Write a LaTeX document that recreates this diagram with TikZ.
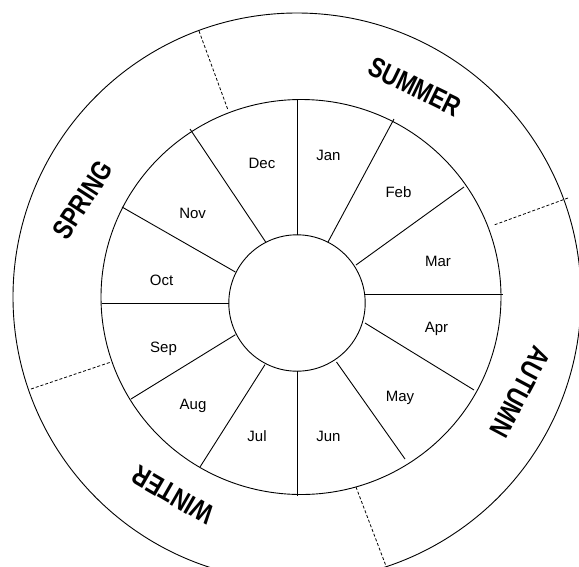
\documentclass[tikz,border=0pt]{standalone}
\usepackage{fontspec}
\setmainfont{Liberation Sans}
\newfontfamily\seasonfont[FakeStretch=0.8]{Liberation Sans}
\begin{document}
\begin{tikzpicture}[x=1pt,y=-1pt,
  ring/.style={line width=0.9pt, draw=black},
  spoke/.style={line width=0.9pt, draw=black},
  divider/.style={line width=0.8pt, draw=black, dash pattern=on 3pt off 2pt},
  month/.style={font=\fontsize{15}{18}\selectfont, inner sep=0pt},
  season/.style={font=\seasonfont\bfseries\fontsize{28}{32}\selectfont, inner sep=0pt}]
\useasboundingbox (0,0) rectangle (579,566);
\clip (0,0) rectangle (579,566);
% rings
\draw[ring] (297,297) circle [radius=284];
\draw[ring] (301,297) ellipse [x radius=200, y radius=197.5];
\draw[ring] (297,303) circle [radius=68.2];
% spoke coordinates
\coordinate (o1) at (297,99.6);  \coordinate (i1) at (297,235);
\coordinate (o2) at (394,119);   \coordinate (i2) at (328,242);
\coordinate (o3) at (464,187);   \coordinate (i3) at (356,265);
\coordinate (o4) at (502.6,294); \coordinate (i4) at (365,294);
\coordinate (o5) at (474,390);   \coordinate (i5) at (365,323);
\coordinate (o6) at (405,459);   \coordinate (i6) at (336.5,362);
\coordinate (o7) at (297,496);   \coordinate (i7) at (297,371);
\coordinate (o8) at (200,467);   \coordinate (i8) at (265,364.6);
\coordinate (o9) at (131,399);   \coordinate (i9) at (235.4,334.7);
\coordinate (o10) at (101.5,303); \coordinate (i10) at (229,303);
\coordinate (o11) at (122,207);  \coordinate (i11) at (235.4,272);
\coordinate (o12) at (190,129);  \coordinate (i12) at (265.7,242);
\foreach \k in {1,...,12} \draw[spoke] (o\k) -- (i\k);
% season dividers
\coordinate (d1a) at (199,31);  \coordinate (d1b) at (228,110);
\coordinate (d2a) at (568,198); \coordinate (d2b) at (494,225);
\coordinate (d3a) at (356,487); \coordinate (d3b) at (386,566);
\coordinate (d4a) at (31,389);  \coordinate (d4b) at (111,362);
\draw[divider] (d1a) -- (d1b);
\draw[divider] (d2a) -- (d2b);
\draw[divider] (d3a) -- (d3b);
\draw[divider] (d4a) -- (d4b);
% months
\node[month] (jan) at (328.4,155) {Jan};
\node[month] (feb) at (398.5,192.6) {Feb};
\node[month] (mar) at (438,261) {Mar};
\node[month] (apr) at (436.5,328.4) {Apr};
\node[month] (may) at (400,397.4) {May};
\node[month] (jun) at (328.4,436) {Jun};
\node[month] (jul) at (257,436) {Jul};
\node[month] (aug) at (193,406) {Aug};
\node[month] (sep) at (163.5,348.7) {Sep};
\node[month] (oct) at (161.6,280.4) {Oct};
\node[month] (nov) at (192.6,213) {Nov};
\node[month] (dec) at (262,163.5) {Dec};
% seasons
\node[season, rotate=-26] (summer) at (415,86.7) {SUMMER};
\node[season, rotate=-118] (autumn) at (520,392) {AUTUMN};
\node[season, rotate=150] (winter) at (173,495) {WINTER};
\node[season, rotate=57] (spring) at (83,200) {SPRING};
\end{tikzpicture}
\end{document}
